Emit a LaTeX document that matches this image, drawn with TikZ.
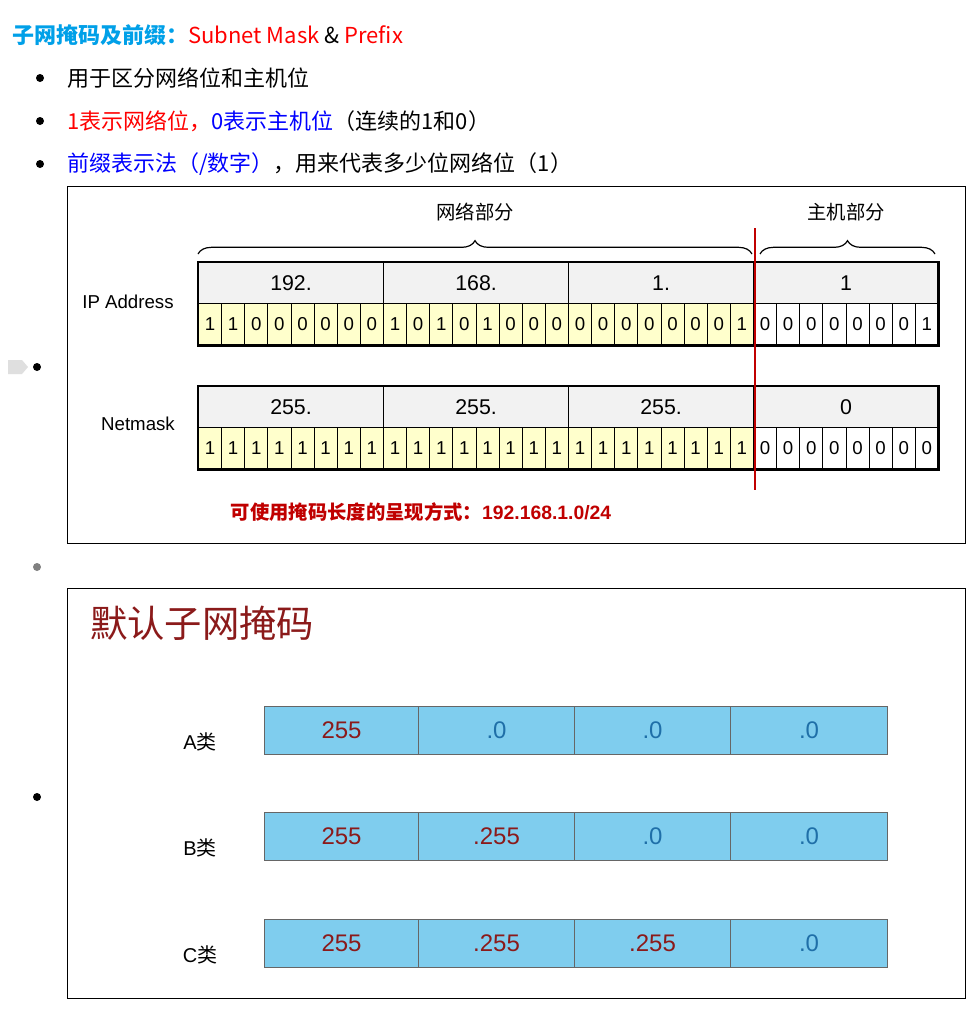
\documentclass[tikz,border=0pt]{standalone}
\usepackage{fontspec}
\setmainfont{Noto Sans CJK SC}
\newfontfamily\arial{Liberation Sans}
\newfontfamily\cjk{Noto Sans CJK SC}
\usetikzlibrary{decorations.pathreplacing}
\definecolor{tcyan}{HTML}{00A0E8}
\definecolor{dred}{HTML}{C00000}
\definecolor{mred}{HTML}{8B1A1A}
\definecolor{sky}{HTML}{7FCDEE}
\definecolor{cellb}{HTML}{1F6FA8}
\definecolor{yel}{HTML}{FFFFCC}
\definecolor{gry}{HTML}{F2F2F2}
\begin{document}
\begin{tikzpicture}[x=0.75pt,y=-0.75pt,
  txt/.style={anchor=west,inner sep=0,font=\fontsize{16.5}{18}\selectfont},
  bul/.style={circle,fill=black,inner sep=0,minimum size=6pt},
  lbl/.style={font=\arial\fontsize{14}{16}\selectfont,inner sep=0},
  oct/.style={draw=black,line width=0.8pt,fill=gry,font=\arial\fontsize{16}{18}\selectfont,inner sep=0},
  bit/.style={draw=black,line width=0.6pt,font=\arial\fontsize{14}{16}\selectfont,inner sep=0},
  mcell/.style={draw=gray!80!black,line width=0.8pt,fill=sky,inner sep=0,font=\arial\fontsize{18}{20}\selectfont},
  cls/.style={font=\arial\fontsize{15}{17}\selectfont,inner sep=0}]
\useasboundingbox[fill=white] (0,0) rectangle (972,1010);
% title and bullets
\node[txt] (title) at (12,35) {\textcolor{tcyan}{\bfseries 子网掩码及前缀：}\textcolor{red}{Subnet Mask} \& \textcolor{red}{Prefix}};
\node[bul] (b1) at (40,78) {}; \node[txt] (t1) at (67,78) {用于区分网络位和主机位};
\node[bul] (b2) at (40,121) {}; \node[txt] (t2) at (67,121) {\textcolor{red}{1表示网络位，}\textcolor{blue}{0表示主机位}（连续的1和0）};
\node[bul] (b3) at (40,164) {}; \node[txt] (t3) at (67,164) {\textcolor{blue}{前缀表示法（/数字）}，用来代表多少位网络位（1）};
% box 1
\node[draw=black,line width=1pt,minimum width=898*0.75pt,minimum height=357*0.75pt,inner sep=0,anchor=north west] (box1) at (67,186) {};
\fill[gray!25] (8,360) -- (22,360) -- (28,367) -- (22,374) -- (8,374) -- cycle;
\node[bul] (b4) at (37,367) {};
\node[lbl] (ipl) at (128,302) {IP Address};
\node[lbl] (nml) at (138,424) {Netmask};
\def\ipbits{1,1,0,0,0,0,0,0,1,0,1,0,1,0,0,0,0,0,0,0,0,0,0,1,0,0,0,0,0,0,0,1}
\def\nmbits{1,1,1,1,1,1,1,1,1,1,1,1,1,1,1,1,1,1,1,1,1,1,1,1,0,0,0,0,0,0,0,0}
\foreach \t [count=\i from 0] in {192.,168.,1.,1}
  \node[oct,minimum width=185*0.75pt,minimum height=41*0.75pt,anchor=north west] (ipo\i) at (198+185*\i,262) {\t};
\foreach \t [count=\i from 0] in {255.,255.,255.,0}
  \node[oct,minimum width=185*0.75pt,minimum height=41*0.75pt,anchor=north west] (nmo\i) at (198+185*\i,386) {\t};
\foreach \b [count=\i from 0] in \ipbits {
  \pgfmathsetmacro\fc{\i<24 ? "yel" : "white"}
  \node[bit,fill=\fc,minimum width=23.125*0.75pt,minimum height=42*0.75pt,anchor=north west] (ipb\i) at (198+23.125*\i,303) {\b};}
\foreach \b [count=\i from 0] in \nmbits {
  \pgfmathsetmacro\fc{\i<24 ? "yel" : "white"}
  \node[bit,fill=\fc,minimum width=23.125*0.75pt,minimum height=42*0.75pt,anchor=north west] (nmb\i) at (198+23.125*\i,427) {\b};}
\draw[line width=2.2pt] (ipo0.north west) rectangle (ipb31.south east);
\draw[line width=2.2pt] (nmo0.north west) rectangle (nmb31.south east);
% braces
\coordinate (bn1) at (198,254); \coordinate (bn2) at (752,254);
\coordinate (bh1) at (760,254); \coordinate (bh2) at (935,254);
\draw[decorate,decoration={brace,amplitude=10pt,aspect=0.5},line width=0.9pt] (bn1) -- (bn2);
\draw[decorate,decoration={brace,amplitude=10pt},line width=0.9pt] (bh1) -- (bh2);
\node[inner sep=0,font=\cjk\fontsize{14.5}{16}\selectfont] (netp) at (475,212) {网络部分};
\node[inner sep=0,font=\cjk\fontsize{14.5}{16}\selectfont] (hostp) at (846,212) {主机部分};
\coordinate (rl1) at (755,228); \coordinate (rl2) at (755,490);
\draw[dred,line width=2.2pt] (rl1) -- (rl2);
\node[inner sep=0,text=dred,font=\bfseries\fontsize{14.5}{16}\selectfont] (pref) at (421,512) {可使用掩码长度的呈现方式：{\arial\bfseries 192.168.1.0/24}};
% box 2
\node[circle,fill=gray,inner sep=0,minimum size=6pt] (b5) at (37,567) {};
\node[draw=black,line width=1pt,minimum width=898*0.75pt,minimum height=410*0.75pt,inner sep=0,anchor=north west] (box2) at (67,588) {};
\node[inner sep=0,anchor=west,text=mred,font=\fontsize{28}{30}\selectfont] (dtitle) at (90,623) {默认子网掩码};
\node[bul] (b6) at (37,797) {};
\foreach \n/\y/\a/\b/\c/\d in {A/706/255/.0/.0/.0, B/812/255/.255/.0/.0, C/919/255/.255/.255/.0} {
  \node[cls] (cl\n) at (200,\y+36) {\n{\cjk 类}};
  \foreach \t/\x/\w [count=\k] in {\a/264/154,\b/418/156,\c/574/156,\d/730/157} {
    \pgfmathsetmacro\tc{(\t=="255" || \t==".255") ? "mred" : "cellb"}
    \node[mcell,text=\tc,minimum width=\w*0.75pt,minimum height=48*0.75pt,anchor=north west] (m\n\k) at (\x,\y) {\t};
  }
}
\end{tikzpicture}
\end{document}
